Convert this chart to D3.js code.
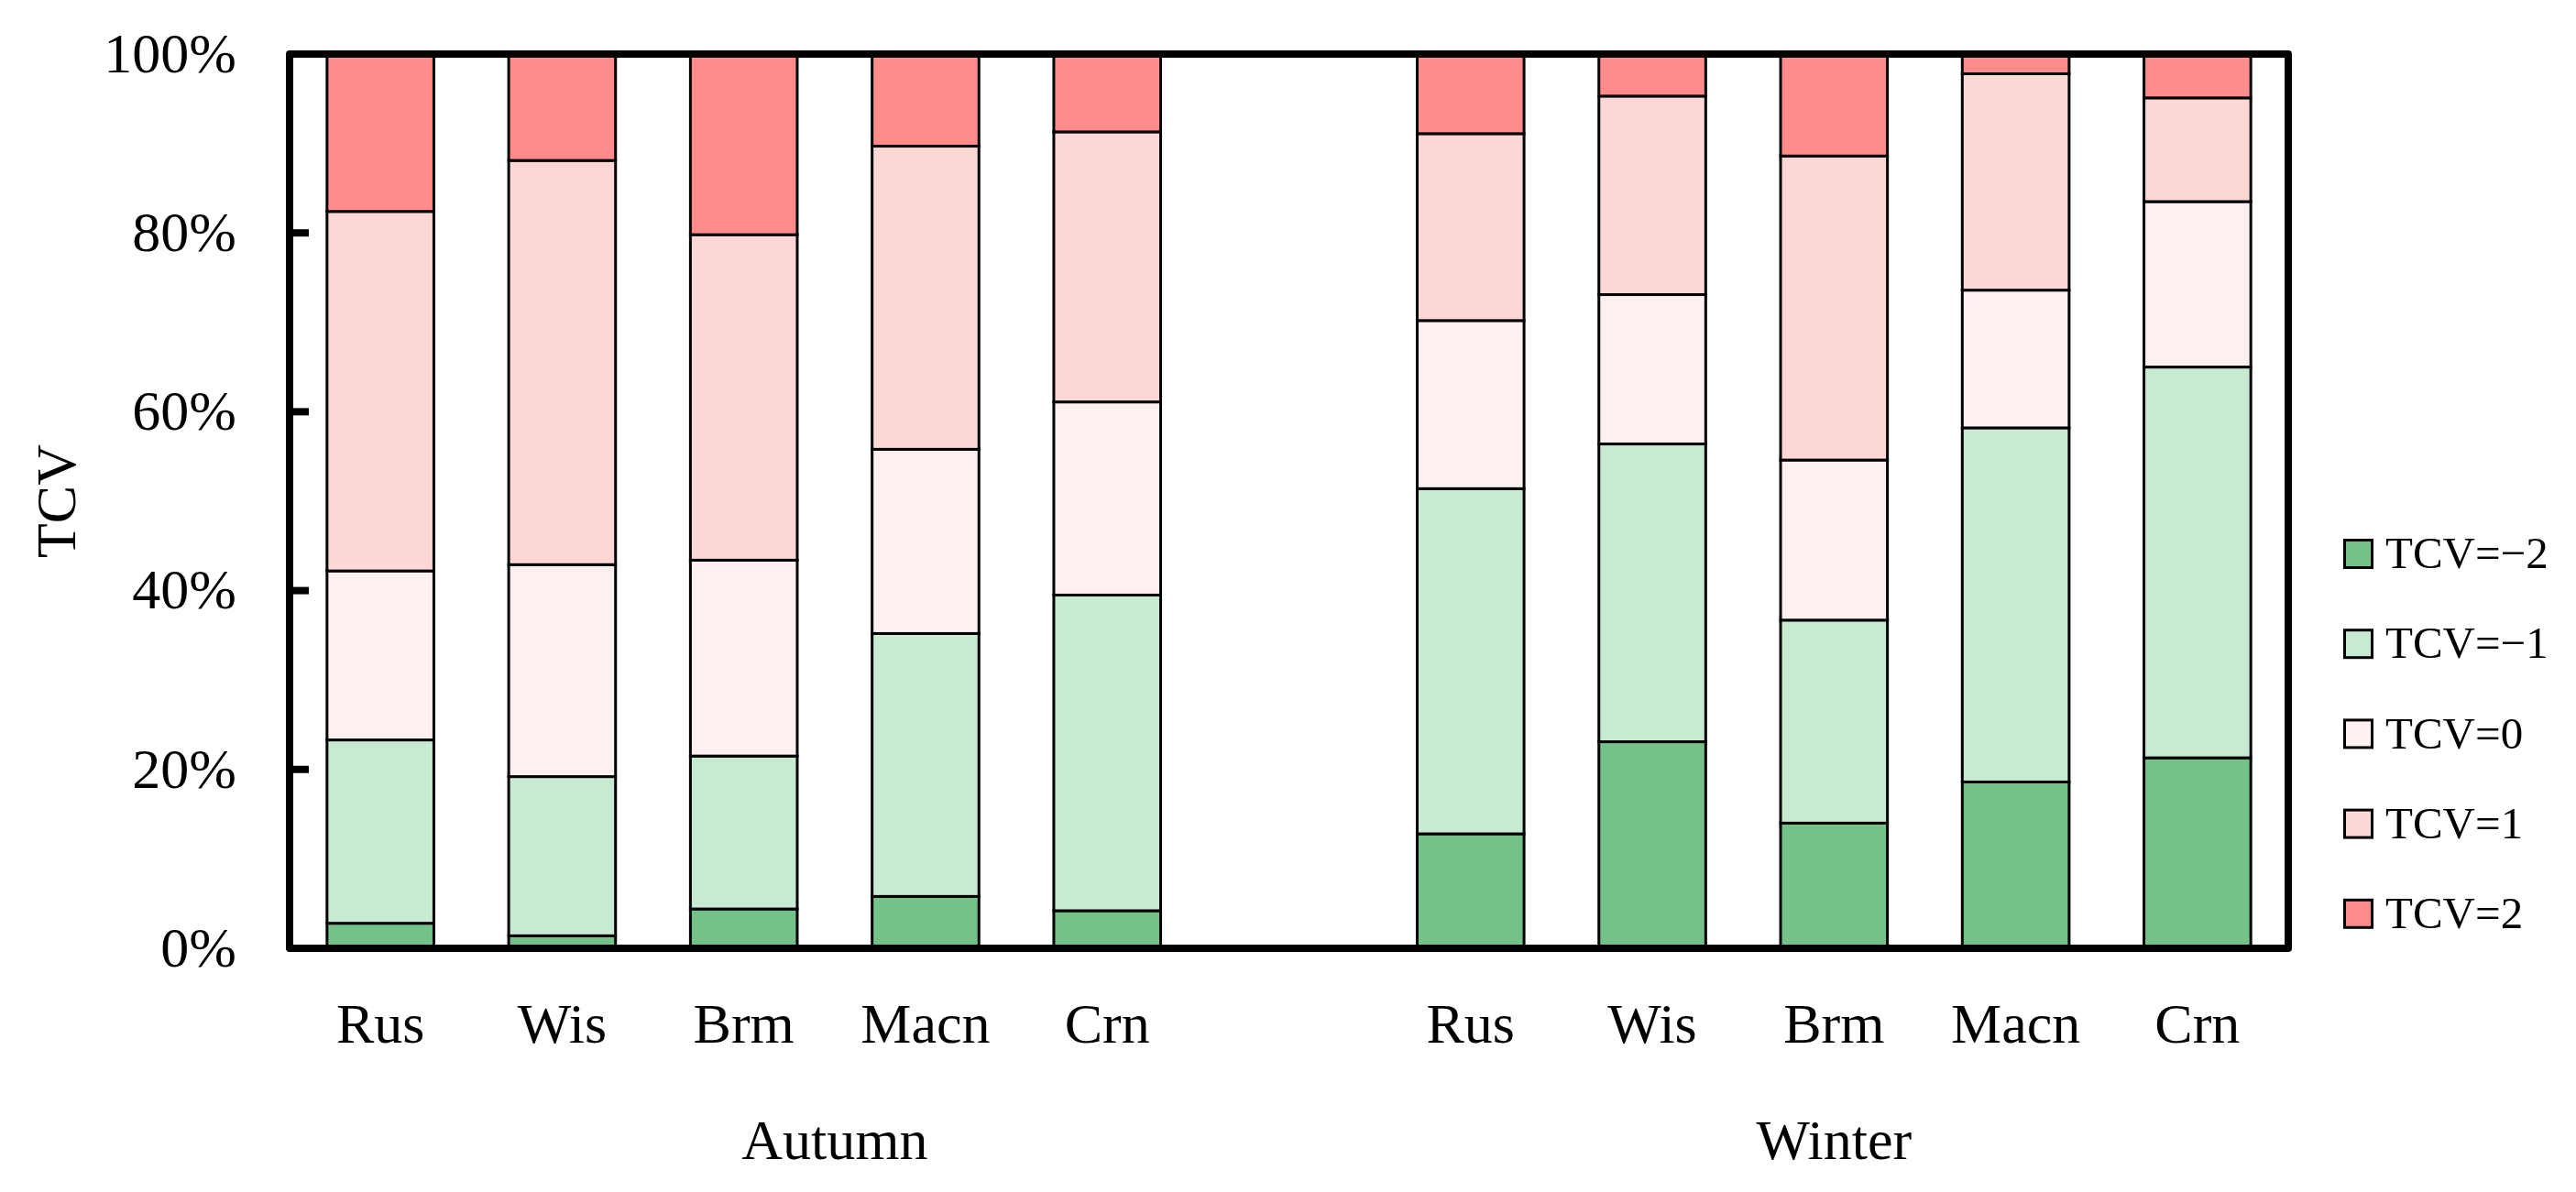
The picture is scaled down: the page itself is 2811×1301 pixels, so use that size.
<!DOCTYPE html>
<html>
<head>
<meta charset="utf-8">
<script src="https://cdn.jsdelivr.net/npm/d3@7"></script>
<style>
  html, body { margin: 0; padding: 0; background: #ffffff; }
  svg { display: block; }
  text { font-family: 'Liberation Serif', 'Times New Roman', serif; fill: #000; }
</style>
</head>
<body>
<svg id="chart" width="2811" height="1301"></svg>
<script>
// ---------------- data ----------------
const seasons = ["Autumn", "Winter"];
const sites = ["Rus", "Wis", "Brm", "Macn", "Crn"];
const levels = ["TCV=\u22122", "TCV=\u22121", "TCV=0", "TCV=1", "TCV=2"];
const levelColors = ["#74C18A", "#C8E9D2", "#FDF0F0", "#FDD6D6", "#FF8B8B"];
const yTicks = [0, 20, 40, 60, 80, 100];

// percentage shares, order: Autumn Rus..Crn, Winter Rus..Crn
const tcvMinus2 = [2.8, 1.4, 4.4, 5.8, 4.2, 12.8, 23.1, 14.0, 18.6, 21.3];
const tcvMinus1 = [20.5, 17.8, 17.1, 29.4, 35.3, 38.6, 33.3, 22.7, 39.6, 43.7];
const tcvZero   = [18.9, 23.7, 21.9, 20.6, 21.6, 18.8, 16.7, 17.9, 15.4, 18.5];
const tcvPlus1  = [40.2, 45.2, 36.4, 33.9, 30.2, 20.9, 22.2, 34.0, 24.2, 11.6];
const tcvPlus2  = [17.6, 11.9, 20.2, 10.3, 8.7, 8.9, 4.7, 11.4, 2.2, 4.9];
const seriesValues = [tcvMinus2, tcvMinus1, tcvZero, tcvPlus1, tcvPlus2];

// ---------------- layout ----------------
const frame = { left: 316, right: 2497, top: 59, bottom: 1035 };
const svg = d3.select("#chart");

// categories: 5 autumn, one empty slot, 5 winter
const catKeys = [];
const rows = [];
seasons.forEach((s, si) => {
  sites.forEach((site, i) => {
    const key = s + "-" + site;
    catKeys.push(key);
    const row = { key, site, season: s };
    levels.forEach((lv, li) => { row[lv] = seriesValues[li][si * sites.length + i]; });
    rows.push(row);
  });
  if (si === 0) catKeys.push("gap");
});

const groupMembers = {
  "Autumn": catKeys.slice(0, 6),
  "Winter": catKeys.slice(6)
};

const x = d3.scaleBand()
  .domain(catKeys)
  .range([frame.left, frame.right])
  .paddingInner(0.412)
  .paddingOuter(0.206);

const y = d3.scaleLinear().domain([0, 100]).range([frame.bottom, frame.top]);

const stack = d3.stack().keys(levels);
const stacked = stack(rows);

// bars
const layers = svg.append("g").selectAll("g")
  .data(stacked)
  .join("g")
  .attr("fill", (d, i) => levelColors[i]);

layers.selectAll("rect")
  .data(d => d)
  .join("rect")
  .attr("x", d => x(d.data.key))
  .attr("width", x.bandwidth())
  .attr("y", d => y(d[1]))
  .attr("height", d => y(d[0]) - y(d[1]))
  .attr("stroke", "#000")
  .attr("stroke-width", 3);

// y axis ticks (inward) and labels
const yAxis = d3.axisLeft(y)
  .tickValues(yTicks)
  .tickFormat(d => d + "%")
  .tickSize(0)
  .tickPadding(58);

const yg = svg.append("g")
  .attr("transform", `translate(${frame.left},0)`)
  .call(yAxis);
yg.select(".domain").remove();
yg.selectAll("text")
  .attr("font-size", 62)
  .attr("font-family", "'Liberation Serif', 'Times New Roman', serif")
  .attr("dy", "0.31em");

svg.append("g").selectAll("line")
  .data(yTicks.filter(v => v > 0 && v < 100))
  .join("line")
  .attr("x1", frame.left)
  .attr("x2", frame.left + 21)
  .attr("y1", d => y(d))
  .attr("y2", d => y(d))
  .attr("stroke", "#000")
  .attr("stroke-width", 8);

// x category labels
svg.append("g").selectAll("text")
  .data(rows)
  .join("text")
  .attr("x", d => x(d.key) + x.bandwidth() / 2)
  .attr("y", 1138)
  .attr("text-anchor", "middle")
  .attr("font-size", 62)
  .text(d => d.site);

// season group labels
svg.append("g").selectAll("text")
  .data(seasons)
  .join("text")
  .attr("x", s => d3.mean(groupMembers[s], k => x(k) + x.bandwidth() / 2))
  .attr("y", 1265)
  .attr("text-anchor", "middle")
  .attr("font-size", 62)
  .text(s => s);

// y axis title
svg.append("text")
  .attr("transform", `translate(82, ${(frame.top + frame.bottom) / 2}) rotate(-90)`)
  .attr("text-anchor", "middle")
  .attr("font-size", 62)
  .text("TCV");

// frame
svg.append("rect")
  .attr("x", frame.left)
  .attr("y", frame.top)
  .attr("width", frame.right - frame.left)
  .attr("height", frame.bottom - frame.top)
  .attr("fill", "none")
  .attr("stroke", "#000")
  .attr("stroke-width", 8)
  .attr("stroke-linejoin", "round");

// legend
const legend = svg.append("g").selectAll("g")
  .data(levels)
  .join("g")
  .attr("transform", (d, i) => `translate(2557, ${604.5 + i * 98.2})`);

legend.append("rect")
  .attr("x", 1.5)
  .attr("y", -15)
  .attr("width", 30)
  .attr("height", 30)
  .attr("fill", (d, i) => levelColors[i])
  .attr("stroke", "#000")
  .attr("stroke-width", 3);

legend.append("text")
  .attr("x", 46)
  .attr("y", 0)
  .attr("dy", "0.32em")
  .attr("font-size", 49)
  .text(d => d);
</script>
</body>
</html>
